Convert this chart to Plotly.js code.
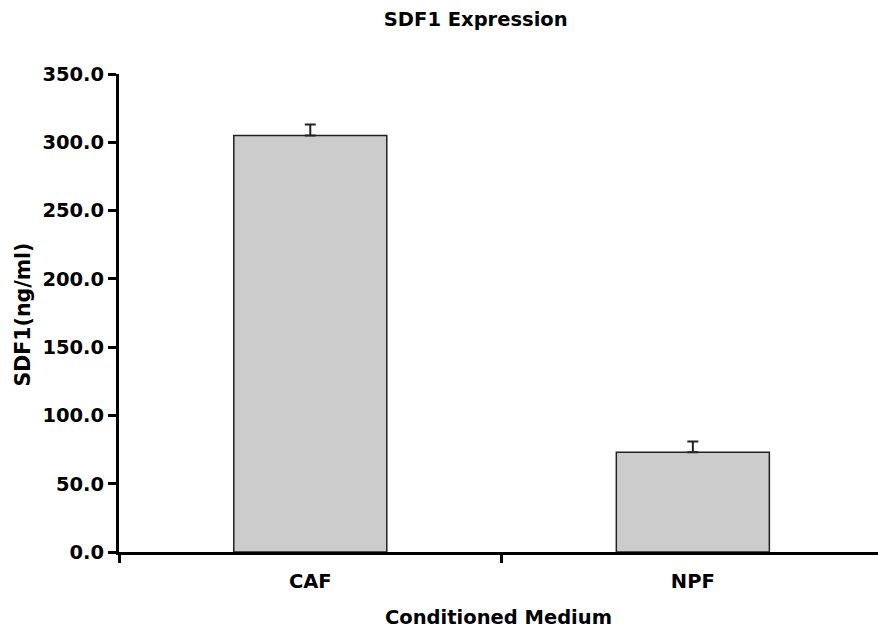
<!DOCTYPE html>
<html>
<head>
<meta charset="utf-8">
<script src="https://cdn.plot.ly/plotly-3.0.1.min.js"></script>
<style>html,body{margin:0;padding:0;background:#fff;}#chart{width:878px;height:629px;}</style>
</head>
<body>
<div id="chart"></div>
<script>
const categories = ["CAF", "NPF"];
const sdf1Values = [305, 73];
const sdf1Errors = [8, 8];
const yTickValues = [0, 50, 100, 150, 200, 250, 300, 350];

const FONT = "DejaVu Sans, Verdana, sans-serif";
const FS = 19.5;

const trace = {
  type: "bar",
  x: categories,
  y: sdf1Values,
  width: 0.40,
  marker: { color: "#cccccc", line: { color: "#222222", width: 1.5 } },
  error_y: {
    type: "data",
    symmetric: false,
    array: sdf1Errors,
    arrayminus: [0, 0],
    color: "#222222",
    thickness: 2,
    width: 5.5
  },
  hoverinfo: "none"
};

const layout = {
  width: 878,
  height: 629,
  margin: { l: 119, r: 0, t: 74, b: 77 },
  paper_bgcolor: "#ffffff",
  plot_bgcolor: "#ffffff",
  showlegend: false,
  font: { family: FONT, color: "#000000", size: FS, weight: "bold" },
  title: {
    text: "<b>SDF1 Expression</b>",
    font: { family: FONT, size: FS, color: "#000" },
    xref: "paper", x: 0.47, xanchor: "center",
    yref: "container", y: 1 - 19 / 629, yanchor: "middle"
  },
  xaxis: {
    type: "category",
    range: [-0.5, 1.484],
    showline: true, linecolor: "#000", linewidth: 3,
    ticks: "outside", tickson: "boundaries", ticklen: 8, tickwidth: 3, tickcolor: "#000",
    ticklabelstandoff: 10,
    showgrid: false, zeroline: false,
    tickfont: { family: FONT, size: FS, color: "#000", weight: "bold" },
    title: { text: "<b>Conditioned Medium</b>", font: { family: FONT, size: FS, color: "#000" }, standoff: 19 }
  },
  yaxis: {
    range: [0, 350],
    tickvals: yTickValues,
    tickformat: ".1f",
    showline: true, linecolor: "#000", linewidth: 3,
    ticks: "outside", ticklen: 8, tickwidth: 3, tickcolor: "#000",
    showgrid: false, zeroline: false,
    tickfont: { family: FONT, size: FS, color: "#000", weight: "bold" }
  },
  annotations: [{
    text: "<b>SDF1(ng/ml)</b>",
    textangle: -90,
    xref: "paper", yref: "paper",
    x: (23 - 119) / 759, y: (551 - 314) / 477,
    xanchor: "center", yanchor: "middle",
    showarrow: false,
    font: { family: FONT, size: 20.5, color: "#000" }
  }]
};

Plotly.newPlot("chart", [trace], layout, { staticPlot: true, displayModeBar: false });
</script>
</body>
</html>
